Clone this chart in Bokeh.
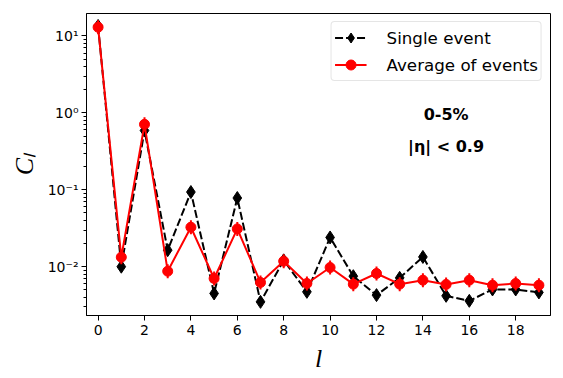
from bokeh.plotting import figure
from bokeh.models import (ColumnDataSource, FixedTicker, CustomJSTickFormatter,
                          Legend, LegendItem, Label, Range1d)
from bokeh.embed import file_html
from bokeh.resources import INLINE
import math

# ---- data ----
ell = list(range(20))
single_event = [13.5, 0.0100, 0.59, 0.0164, 0.0935, 0.00449, 0.0782, 0.00349, 0.0121, 0.00471,
                0.0240, 0.00753, 0.00427, 0.00716, 0.0134, 0.00418, 0.00360, 0.00506, 0.00506, 0.00463]
average_events = [13.0, 0.0133, 0.71, 0.00874, 0.0326, 0.00703, 0.0310, 0.00624, 0.0118, 0.00605,
                  0.00976, 0.00593, 0.00816, 0.00593, 0.00668, 0.00588, 0.00668, 0.00575, 0.00605, 0.00575]
x_ticks = [0, 2, 4, 6, 8, 10, 12, 14, 16, 18]
y_ticks = [0.01, 0.1, 1, 10]
legend_labels = ["Single event", "Average of events"]
annot_texts = ["0-5%", "|η| < 0.9"]

src_s = ColumnDataSource(dict(x=ell, y=single_event))
src_a = ColumnDataSource(dict(x=ell, y=average_events))

p = figure(width=563, height=378, y_axis_type="log",
           x_range=Range1d(-0.5, 19.5), y_range=Range1d(0.00232, 19.6),
           output_backend="svg", toolbar_location=None,
           min_border_left=86, min_border_right=13, min_border_top=13, min_border_bottom=63)
p.background_fill_color = "white"
p.border_fill_color = "white"
p.outline_line_color = "black"
p.outline_line_width = 1
p.grid.visible = False

# single event
l1 = p.line("x", "y", source=src_s, line_color="black", line_width=2, line_dash="8 3")
m1 = p.scatter("x", "y", source=src_s, marker="diamond", size=13,
               fill_color="black", line_color="black")
# average of events
l2 = p.line("x", "y", source=src_a, line_color="#ff0000", line_width=2)
e2 = p.scatter("x", "y", source=src_a, marker="dash", angle=math.pi / 2, size=14,
               line_color="#ff0000", line_width=2)
m2 = p.scatter("x", "y", source=src_a, marker="circle", size=10,
               fill_color="#ff0000", line_color="#ff0000")

# axes
xa = p.xaxis[0]
xa.ticker = FixedTicker(ticks=x_ticks)
xa.axis_label = "l"
ya = p.yaxis[0]
minor = [m * 10.0 ** k for k in range(-3, 2) for m in range(2, 10)]
ya.ticker = FixedTicker(ticks=y_ticks, minor_ticks=minor)
ya.formatter = CustomJSTickFormatter(code="""
const sup = {"-":"\u207b","0":"\u2070","1":"\u00b9","2":"\u00b2","3":"\u00b3","4":"\u2074","5":"\u2075","6":"\u2076","7":"\u2077","8":"\u2078","9":"\u2079"};
const e = Math.round(Math.log10(tick));
return "10" + String(e).split("").map(c => sup[c]).join("");
""")
ya.axis_label = "C\u2097"

for ax in (xa, ya):
    ax.axis_line_color = "black"
    ax.major_tick_line_color = "black"
    ax.minor_tick_line_color = "black"
    ax.major_tick_out = 5
    ax.major_tick_in = 0
    ax.minor_tick_out = 3
    ax.minor_tick_in = 0
    ax.major_label_text_font = "DejaVu Sans"
    ax.major_label_text_font_size = "14px"
    ax.major_label_text_color = "black"
    ax.axis_label_text_font = "Liberation Serif"
    ax.axis_label_text_font_style = "italic"
    ax.axis_label_text_font_size = "26px"
    ax.axis_label_text_color = "black"
    ax.axis_label_standoff = 6
xa.minor_tick_line_color = None
xa.major_label_standoff = 4
ya.major_label_standoff = 3

legend = Legend(items=[LegendItem(label=legend_labels[0], renderers=[l1, m1]),
                       LegendItem(label=legend_labels[1], renderers=[l2, e2, m2])],
                location="top_right", margin=8, padding=3, spacing=2,
                glyph_width=32, glyph_height=25, label_height=25,
                label_standoff=20,
                label_text_font="DejaVu Sans", label_text_font_size="16.7px",
                label_text_color="black",
                border_line_color="#cccccc", border_line_width=1,
                background_fill_color="white", background_fill_alpha=0.8)
if "border_radius" in legend.properties():
    legend.border_radius = 4
p.add_layout(legend)

for txt, yv in zip(annot_texts, [0.96, 0.37]):
    p.add_layout(Label(x=15, y=yv, text=txt, text_align="center", text_baseline="middle",
                       text_font="DejaVu Sans", text_font_style="bold",
                       text_font_size="16px", text_color="black"))

open("out.html", "w").write(file_html(p, INLINE))
